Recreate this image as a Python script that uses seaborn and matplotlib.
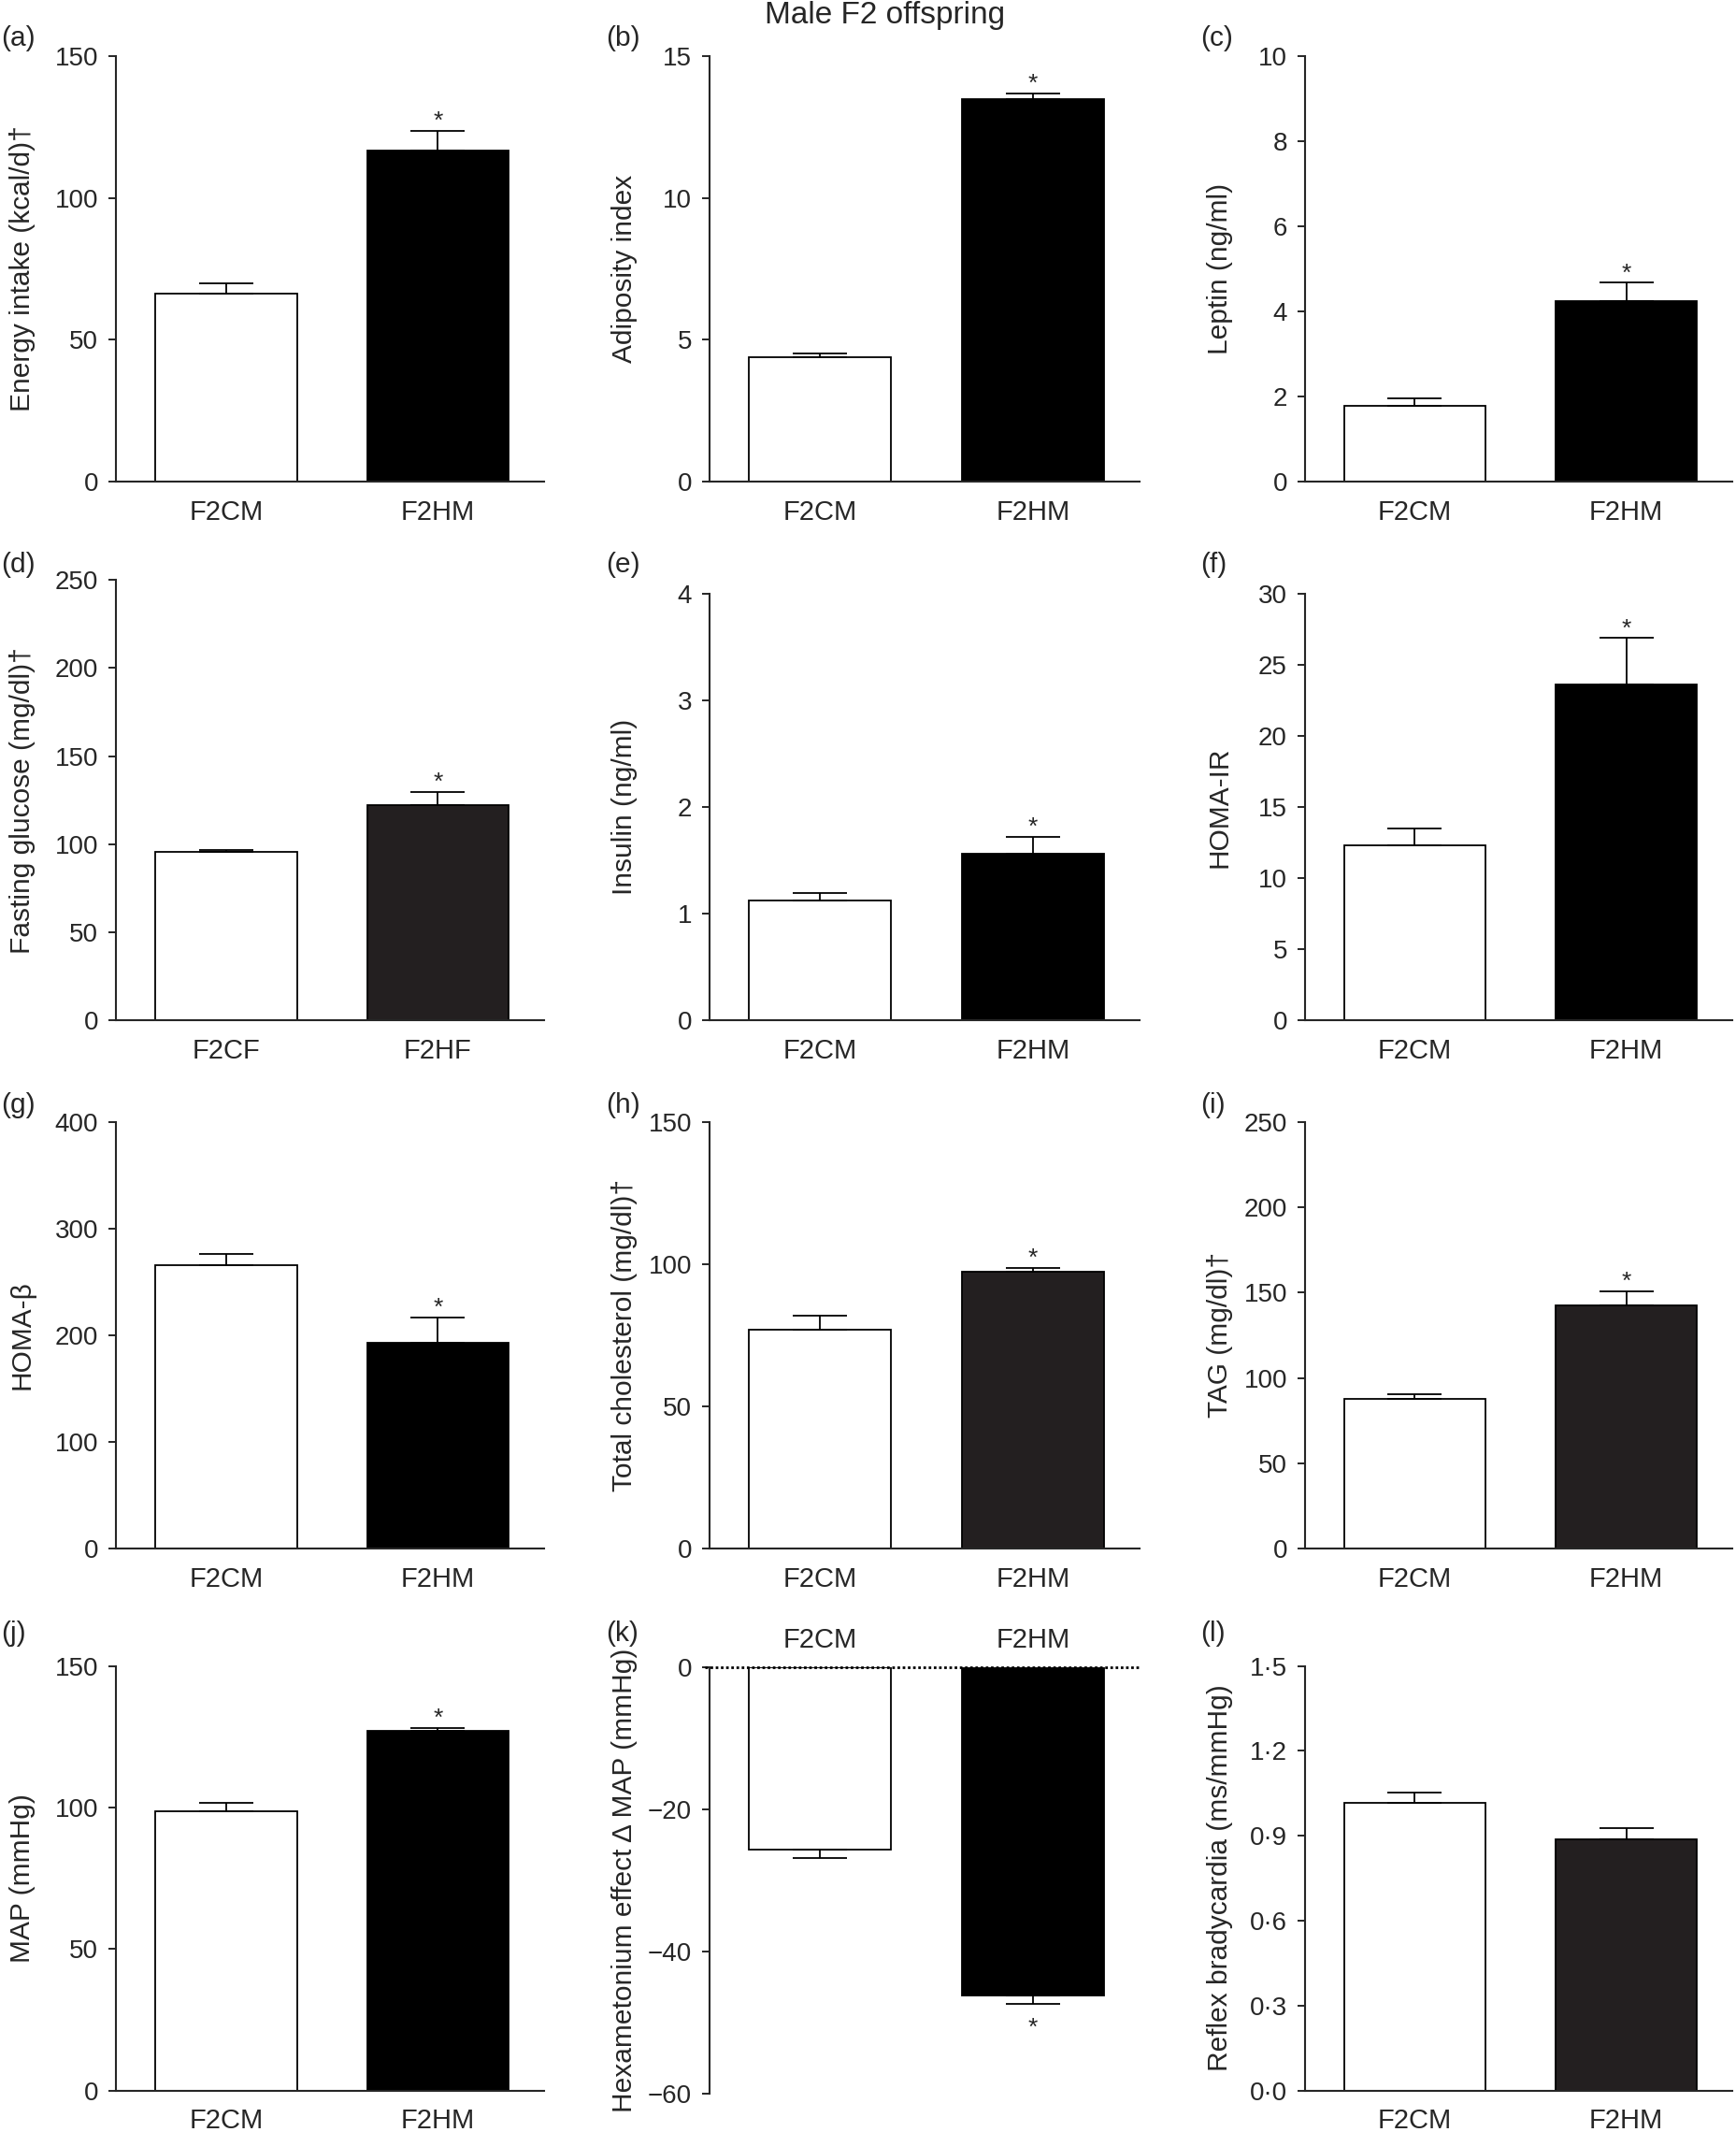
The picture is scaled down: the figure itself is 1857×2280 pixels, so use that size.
import numpy as np
import matplotlib
matplotlib.use('Agg')
import matplotlib.pyplot as plt
import seaborn as sns

sns.set_style('ticks')
plt.rcParams['font.family'] = ['Liberation Sans', 'DejaVu Sans']
plt.rcParams['axes.unicode_minus'] = True

# --- data (mean, SEM) ---
groups_m = ['F2CM', 'F2HM']
groups_f = ['F2CF', 'F2HF']

energy_mean = [66.2, 116.7]
energy_sem = [3.6, 7.0]
adiposity_mean = [4.38, 13.5]
adiposity_sem = [0.15, 0.2]
leptin_mean = [1.78, 4.24]
leptin_sem = [0.18, 0.44]
glucose_mean = [95.7, 122.4]
glucose_sem = [1.2, 7.4]
insulin_mean = [1.12, 1.56]
insulin_sem = [0.07, 0.16]
homa_ir_mean = [12.27, 23.57]
homa_ir_sem = [1.22, 3.31]
homa_b_mean = [266.0, 192.6]
homa_b_sem = [10.5, 23.9]
chol_mean = [77.1, 97.2]
chol_sem = [4.7, 1.4]
tag_mean = [87.9, 142.7]
tag_sem = [2.3, 8.0]
map_mean = [98.8, 127.0]
map_sem = [2.8, 1.1]
hexa_mean = [-25.7, -46.2]
hexa_sem = [1.15, 1.2]
reflex_mean = [1.015, 0.888]
reflex_sem = [0.037, 0.040]

# significance flag per panel (asterisk over HM/HF bar)
signif = [True, True, True, True, True, True, True, True, True, True, True, False]

ylabels = ['Energy intake (kcal/d)†', 'Adiposity index', 'Leptin (ng/ml)',
           'Fasting glucose (mg/dl)†', 'Insulin (ng/ml)', 'HOMA-IR',
           'HOMA-β', 'Total cholesterol (mg/dl)†', 'TAG (mg/dl)†',
           'MAP (mmHg)', 'Hexametonium effect Δ MAP (mmHg)',
           'Reflex bradycardia (ms/mmHg)']
letters = ['(a)', '(b)', '(c)', '(d)', '(e)', '(f)',
           '(g)', '(h)', '(i)', '(j)', '(k)', '(l)']

yticks = [
    [0, 50, 100, 150],
    [0, 5, 10, 15],
    [0, 2, 4, 6, 8, 10],
    [0, 50, 100, 150, 200, 250],
    [0, 1, 2, 3, 4],
    [0, 5, 10, 15, 20, 25, 30],
    [0, 100, 200, 300, 400],
    [0, 50, 100, 150],
    [0, 50, 100, 150, 200, 250],
    [0, 50, 100, 150],
    [-60, -40, -20, 0],
    [0.0, 0.3, 0.6, 0.9, 1.2, 1.5],
]
reflex_ticklabels = ['0·0', '0·3', '0·6', '0·9', '1·2', '1·5']

panels = [
    (groups_m, energy_mean, energy_sem),
    (groups_m, adiposity_mean, adiposity_sem),
    (groups_m, leptin_mean, leptin_sem),
    (groups_f, glucose_mean, glucose_sem),
    (groups_m, insulin_mean, insulin_sem),
    (groups_m, homa_ir_mean, homa_ir_sem),
    (groups_m, homa_b_mean, homa_b_sem),
    (groups_m, chol_mean, chol_sem),
    (groups_m, tag_mean, tag_sem),
    (groups_m, map_mean, map_sem),
    (groups_m, hexa_mean, hexa_sem),
    (groups_m, reflex_mean, reflex_sem),
]

BLACK = '#000000'
DARK = '#231f20'
bar_colors = [BLACK, BLACK, BLACK, DARK, BLACK, BLACK,
              BLACK, DARK, DARK, BLACK, BLACK, DARK]

# --- layout (in pixels of a 1280-wide view of the page) ---
W, H = 1280.0, 1571.6
col_l = [85.5, 523.0, 962.0]
col_r = [401.0, 840.0, 1277.0]
row_tb = [
    [(41.5, 355.0), (41.5, 355.0), (41.5, 355.0)],
    [(427.6, 752.0), (437.5, 752.0), (437.5, 752.0)],
    [(827.0, 1141.5), (827.0, 1141.5), (827.0, 1141.5)],
    [(1228.0, 1541.0), (1229.0, 1543.0), (1228.0, 1541.0)],
]
label_x = [-0.188, -0.167, -0.168]
letter_x = [1.0, 447.0, 885.0]
letter_y = [28.0, 416.0, 815.0, 1204.0]

fig = plt.figure(figsize=(18.57, 22.80), dpi=100)

for i, (grp, mean, sem) in enumerate(panels):
    r, c = divmod(i, 3)
    top, bot = row_tb[r][c]
    ax = fig.add_axes([col_l[c] / W, 1 - bot / H,
                       (col_r[c] - col_l[c]) / W, (bot - top) / H])

    sns.barplot(x=grp, y=mean, hue=grp, palette=['#ffffff', bar_colors[i]],
                legend=False, width=0.67, edgecolor='black', linewidth=1.3,
                saturation=1, ax=ax)

    zeros = [0, 0]
    if i == 10:
        yerr = [sem, zeros]
    else:
        yerr = [zeros, sem]
    ax.errorbar([0, 1], mean, yerr=yerr, fmt='none', ecolor='black',
                elinewidth=1.3, capsize=21, capthick=1.3)

    if signif[i]:
        if i == 10:
            ax.annotate('*', xy=(1, mean[1] - sem[1]), xytext=(0, -24),
                        textcoords='offset points', ha='center', va='baseline',
                        fontsize=19)
        else:
            ax.annotate('*', xy=(1, mean[1] + sem[1]), xytext=(0, 2),
                        textcoords='offset points', ha='center', va='baseline',
                        fontsize=19)

    yt = yticks[i]
    ax.set_xlim(-0.52, 1.5)
    ax.set_ylim(yt[0], yt[-1])
    ax.set_yticks(yt)
    if i == 11:
        ax.set_yticklabels(reflex_ticklabels)

    ax.set_xlabel('')
    ax.set_ylabel(ylabels[i], fontsize=21.5)
    ax.yaxis.set_label_coords(label_x[c], 0.5)

    ax.tick_params(axis='y', direction='out', length=6, width=1.4,
                   pad=7.5, labelsize=20)

    if i == 10:
        sns.despine(ax=ax, top=True, right=True, bottom=True)
        ax.xaxis.tick_top()
        ax.tick_params(axis='x', top=True, bottom=False, length=0, pad=11,
                       labelsize=21)
        ax.axhline(0, color='black', lw=2.0, ls=(0, (1, 1)),
                   xmin=-0.01, clip_on=False)
    else:
        sns.despine(ax=ax)
        ax.tick_params(axis='x', length=0, pad=13.5, labelsize=21)

    for side in ['left', 'bottom', 'top']:
        ax.spines[side].set_linewidth(1.5)

    fig.text(letter_x[c] / W, 1 - letter_y[r] / H, letters[i],
             ha='left', va='center', fontsize=21.5)

fig.text(564 / W, 1 - 11.5 / H, 'Male F2 offspring', ha='left', va='center',
         fontsize=24)

fig.savefig('out.png', dpi=100)
